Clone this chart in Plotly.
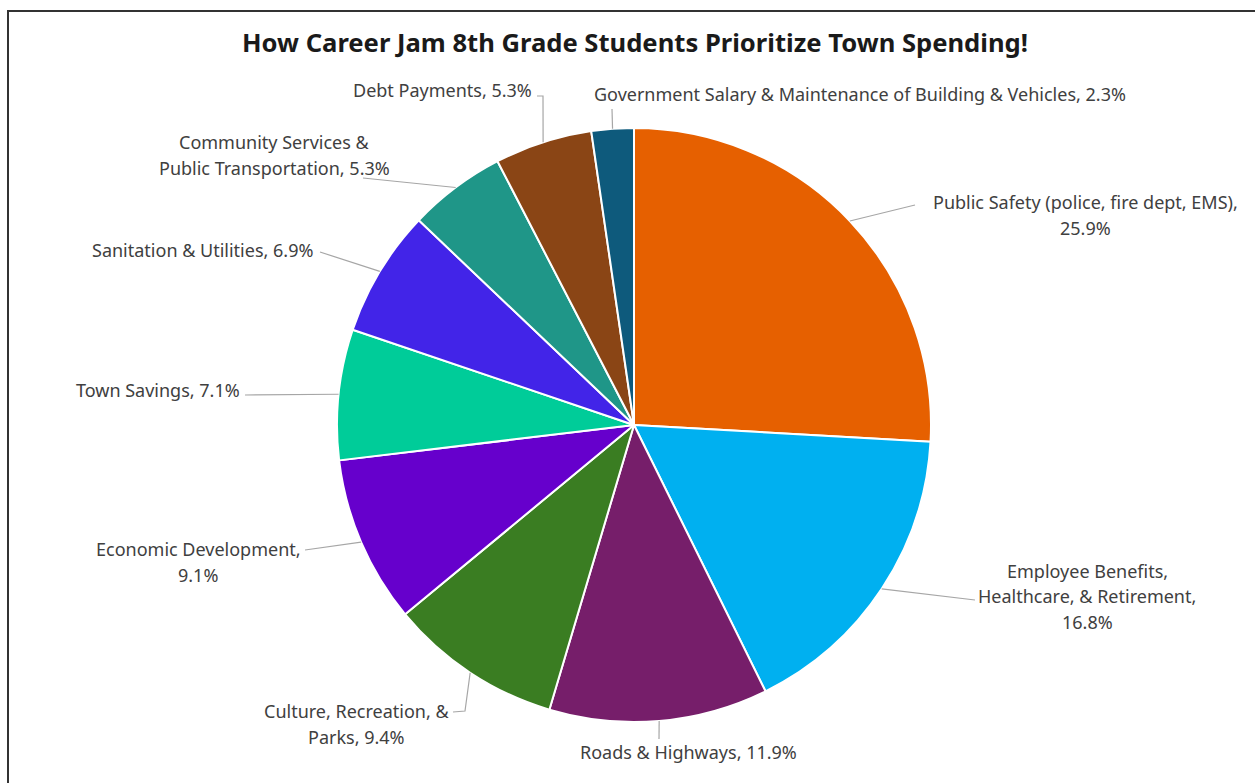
import math
import plotly.graph_objects as go

# ---------------- data ----------------
categories = [
    "Public Safety (police, fire dept, EMS)",
    "Employee Benefits, Healthcare, & Retirement",
    "Roads & Highways",
    "Culture, Recreation, & Parks",
    "Economic Development",
    "Town Savings",
    "Sanitation & Utilities",
    "Community Services & Public Transportation",
    "Debt Payments",
    "Government Salary & Maintenance of Building & Vehicles",
]
values = [25.9, 16.8, 11.9, 9.4, 9.1, 7.1, 6.9, 5.3, 5.3, 2.3]
label_templates = [
    "Public Safety (police, fire dept, EMS),<br>{v}%",
    "Employee Benefits,<br>Healthcare, & Retirement,<br>{v}%",
    "Roads & Highways, {v}%",
    "Culture, Recreation, &<br>Parks, {v}%",
    "Economic Development,<br>{v}%",
    "Town Savings, {v}%",
    "Sanitation & Utilities, {v}%",
    "Community Services &<br>Public Transportation, {v}%",
    "Debt Payments, {v}%",
    "Government Salary & Maintenance of Building & Vehicles, {v}%",
]
colors = ["#E66000", "#00B0F0", "#761E6A", "#3A7D22", "#6600CC",
          "#00CC99", "#4224E8", "#1F9688", "#8A4515", "#0E5A7C"]
title_text = "How Career Jam 8th Grade Students Prioritize Town Spending!"

# ---------------- layout (pixels) ----------------
W, H = 1255, 783
CX, CY, R = 634, 425, 297
LINE_GAP = 25.5
FONT = "Noto Sans, sans-serif"

# label block centre and leader-line points after the slice edge point
label_layout = [
    dict(c=(1085, 215), pts=[(915, 205)]),
    dict(c=(1087, 596), pts=[(975, 600)]),
    dict(c=(688, 752), pts=[(659, 739)]),
    dict(c=(356, 724), pts=[(465, 711), (453, 712)]),
    dict(c=(198, 562), pts=[(305, 550)]),
    dict(c=(158, 390), pts=[(245, 395)]),
    dict(c=(202, 250), pts=[(320, 252)]),
    dict(c=(274, 155), pts=[(363, 178)]),
    dict(c=(442, 90), pts=[(543, 96), (537, 96)]),
    dict(c=(860, 94), pts=[(612, 109)]),
]


def px(x):
    return x / W


def py(y):
    return 1 - y / H


fig = go.Figure(go.Pie(
    labels=categories,
    values=values,
    sort=False,
    direction="clockwise",
    rotation=0,
    textinfo="none",
    hoverinfo="label+percent",
    marker=dict(colors=colors, line=dict(color="white", width=2)),
    domain=dict(x=[px(CX - R), px(CX + R)], y=[py(CY + R), py(CY - R)]),
    showlegend=False,
))

total = sum(values)
cum = 0.0
shapes = []
annotations = []
for v, tmpl, lay in zip(values, label_templates, label_layout):
    theta = 2 * math.pi * (cum + v / 2) / total
    cum += v
    ex = CX + R * math.sin(theta)
    ey = CY - R * math.cos(theta)
    pts = [(ex, ey)] + lay["pts"]
    path = "M " + " L ".join(f"{px(x):.5f},{py(y):.5f}" for x, y in pts)
    shapes.append(dict(type="path", xref="paper", yref="paper", path=path,
                       line=dict(color="#A6A6A6", width=1.2)))
    lines = tmpl.format(v=v).split("<br>")
    n = len(lines)
    for i, t in enumerate(lines):
        yy = lay["c"][1] + (i - (n - 1) / 2) * LINE_GAP
        annotations.append(dict(
            x=px(lay["c"][0]), y=py(yy), xref="paper", yref="paper",
            xanchor="center", yanchor="middle", align="center", showarrow=False,
            text=t,
            font=dict(family=FONT, size=18, color="#404040"),
        ))

# outer frame
shapes.append(dict(type="rect", xref="paper", yref="paper",
                   x0=px(8), x1=px(W + 20), y0=py(H + 20), y1=py(11),
                   line=dict(color="#333333", width=2), fillcolor="rgba(0,0,0,0)"))

fig.update_layout(
    width=W, height=H,
    margin=dict(l=0, r=0, t=0, b=0),
    paper_bgcolor="white",
    plot_bgcolor="white",
    title=dict(text="<b>" + title_text + "</b>", x=px(635), y=py(43),
               xanchor="center", yanchor="middle", xref="paper", yref="paper",
               font=dict(family=FONT, size=25.6, color="#1a1a1a")),
    shapes=shapes,
    annotations=annotations,
)

fig.write_html("out.html",
               config={"displayModeBar": False},
               post_script="document.body.style.margin='0';document.body.style.overflow='hidden';")
